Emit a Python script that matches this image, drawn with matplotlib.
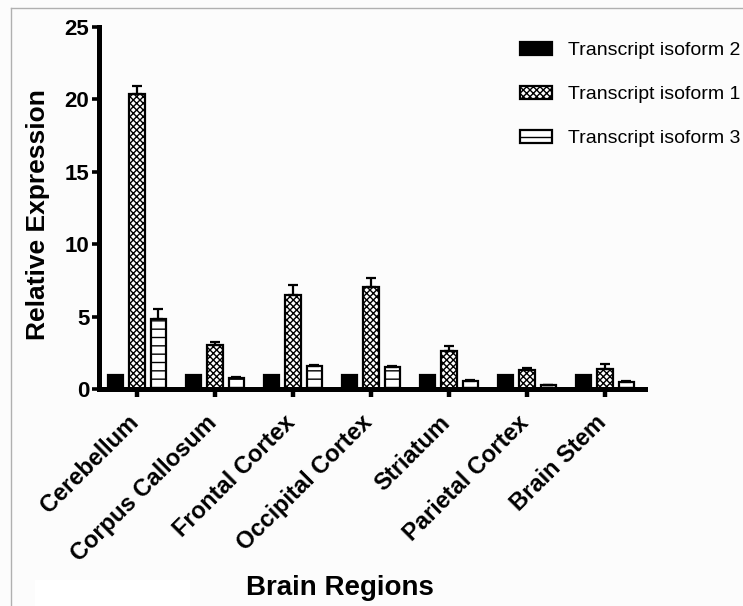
import matplotlib
matplotlib.use("Agg")
import matplotlib.pyplot as plt
import matplotlib.transforms as mtransforms
import numpy as np
from matplotlib.patches import Rectangle
from matplotlib.lines import Line2D

# Relative expression per brain region for three transcript isoforms
regions = ["Cerebellum", "Corpus Callosum", "Frontal Cortex", "Occipital Cortex",
           "Striatum", "Parietal Cortex", "Brain Stem"]
iso2 = [1.0, 1.0, 1.0, 1.0, 1.0, 1.0, 1.0]
iso1 = [20.4, 3.05, 6.5, 7.05, 2.65, 1.3, 1.4]
iso1_err = [0.55, 0.2, 0.7, 0.6, 0.35, 0.15, 0.3]
iso3 = [4.8, 0.75, 1.6, 1.5, 0.55, 0.25, 0.5]
iso3_err = [0.75, 0.08, 0.08, 0.06, 0.05, 0.03, 0.05]
series_labels = ["Transcript isoform 2", "Transcript isoform 1", "Transcript isoform 3"]
yticks = [0, 5, 10, 15, 20, 25]

plt.rcParams['font.family'] = ['Liberation Sans', 'DejaVu Sans']
plt.rcParams['hatch.linewidth'] = 1.0
plt.rcParams['hatch.color'] = 'black'

W, H = 743, 606
fig = plt.figure(figsize=(W / 100, H / 100), dpi=100, facecolor='#fcfcfc')

# thin frame around the image area and a lighter patch at the bottom
fig.add_artist(Line2D([11 / W, 11 / W], [0, 1 - 8 / H], color='#b0b0b0', lw=1.0))
fig.add_artist(Line2D([11 / W, 1], [1 - 8 / H, 1 - 8 / H], color='#b0b0b0', lw=1.0))
fig.add_artist(Rectangle((35 / W, 0), 155 / W, 26 / H, transform=fig.transFigure,
                         facecolor='white', edgecolor='none'))

ax_l, ax_r, ax_t, ax_b = 99, 645, 27, 389
ax = fig.add_axes([ax_l / W, 1 - ax_b / H, (ax_r - ax_l) / W, (ax_b - ax_t) / H])
ax.set_facecolor('none')

x = np.arange(len(regions))
bw = 0.2
off = 0.275
edge_lw = 1.6
err_kw = dict(ecolor='black', elinewidth=1.6, capsize=3.8, capthick=1.6)

b2 = ax.bar(x - off, iso2, bw, color='black', edgecolor='black', linewidth=edge_lw,
            label=series_labels[0], zorder=2)
b1 = ax.bar(x, iso1, bw, color='white', edgecolor='black', linewidth=edge_lw,
            hatch='xxxxx', label=series_labels[1], zorder=2,
            yerr=[np.zeros(len(iso1)), iso1_err], error_kw=err_kw)
b3 = ax.bar(x + off, iso3, bw, color='white', edgecolor='black', linewidth=edge_lw,
            hatch='--', label=series_labels[2], zorder=2,
            yerr=[np.zeros(len(iso3)), iso3_err], error_kw=err_kw)

ax.set_xlim(-(137 - ax_l) / 78, (ax_r - 137) / 78)
ax.set_ylim(0, 25)
ax.set_yticks(yticks)
ax.set_yticklabels([str(v) for v in yticks], fontsize=16, fontweight='bold')
ax.set_xticks(x)
ax.set_xticklabels([])

# slanted region names, anchored by their upper-right end just below each tick
lbl_tr = ax.get_xaxis_transform() + mtransforms.ScaledTranslation(-0.10, -0.22, fig.dpi_scale_trans)
for xi, name in zip(x, regions):
    ax.text(xi, 0, name, transform=lbl_tr, rotation=45, rotation_mode='anchor',
            ha='right', va='top', fontsize=17, fontweight='bold', clip_on=False)

for side in ['top', 'right']:
    ax.spines[side].set_visible(False)
for side in ['left', 'bottom']:
    ax.spines[side].set_linewidth(3.6)
    ax.spines[side].set_zorder(3)
ax.tick_params(axis='y', length=5, width=2.6, pad=2)
ax.tick_params(axis='x', length=6, width=3.2)

fig.text(38 / W, 1 - 215 / H, "Relative Expression", rotation=90, ha='center',
         va='center', fontsize=19, fontweight='bold')
fig.text(340 / W, 1 - 595 / H, "Brain Regions", ha='center', va='baseline',
         fontsize=20, fontweight='bold')

fig.legend(handles=[b2, b1, b3], labels=series_labels, loc='upper left',
           bbox_to_anchor=(520 / W, 1 - 42 / H), frameon=False, fontsize=14,
           labelspacing=1.38, handlelength=1.65, handleheight=0.62,
           handletextpad=0.8, borderpad=0, borderaxespad=0)

fig.savefig("out.png", dpi=100, facecolor=fig.get_facecolor())
